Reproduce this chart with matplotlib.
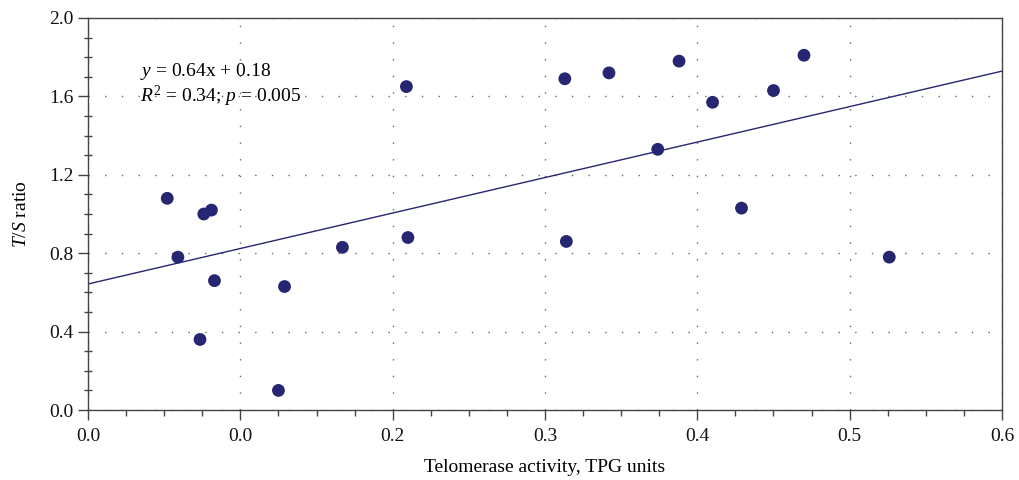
import numpy as np
import matplotlib
matplotlib.use("Agg")
import matplotlib.pyplot as plt
from matplotlib.ticker import MultipleLocator, FixedLocator, FixedFormatter

plt.rcParams['font.family'] = ['Liberation Serif', 'DejaVu Serif']
plt.rcParams['mathtext.fontset'] = 'custom'
plt.rcParams['mathtext.rm'] = 'Liberation Serif'
plt.rcParams['mathtext.it'] = 'Liberation Serif:italic'

# telomerase activity (TPG units) vs T/S ratio
tpg = [0.052, 0.059, 0.076, 0.081, 0.083, 0.0735, 0.125, 0.129, 0.167, 0.209,
       0.210, 0.313, 0.314, 0.342, 0.374, 0.388, 0.410, 0.429, 0.450, 0.470, 0.526]
ts_ratio = [1.08, 0.78, 1.00, 1.02, 0.66, 0.36, 0.10, 0.63, 0.83, 1.65,
            0.88, 1.69, 0.86, 1.72, 1.33, 1.78, 1.57, 1.03, 1.63, 1.81, 0.78]
# drawn regression line (intercept, slope) as seen in the figure
fit_intercept = 0.643
fit_slope = 1.81
xtick_vals = [0.0, 0.1, 0.2, 0.3, 0.4, 0.5, 0.6]
xtick_labels = ['0.0', '0.0', '0.2', '0.3', '0.4', '0.5', '0.6']
ytick_vals = [0.0, 0.4, 0.8, 1.2, 1.6, 2.0]

navy = '#262673'

fig = plt.figure(figsize=(10.19, 4.8), dpi=100)
ax = fig.add_axes([0.0864, 0.1458, 0.8969, 0.8167])

xs = np.array([0.0, 0.6])
ax.plot(xs, fit_intercept + fit_slope * xs, color=navy, lw=1.0, zorder=2)
ax.scatter(tpg, ts_ratio, s=85, color=navy, edgecolors='none', zorder=3)

ax.set_xlim(0, 0.6)
ax.set_ylim(0, 2.0)
ax.xaxis.set_major_locator(FixedLocator(xtick_vals))
ax.xaxis.set_major_formatter(FixedFormatter(xtick_labels))
ax.xaxis.set_minor_locator(MultipleLocator(0.025))
ax.yaxis.set_major_locator(FixedLocator(ytick_vals))
ax.yaxis.set_minor_locator(MultipleLocator(0.1))

ax.grid(True, which='major', color='#666666', linestyle=(0, (1, 11)), linewidth=1.0)
ax.set_axisbelow(True)

for sp in ax.spines.values():
    sp.set_color('#444444')
    sp.set_linewidth(1.0)

ax.tick_params(axis='both', which='major', direction='out', length=7, width=1,
               color='#444444', labelsize=14, labelcolor='#111111')
ax.tick_params(axis='x', which='minor', direction='out', length=4, width=1, color='#444444')
ax.tick_params(axis='y', which='minor', direction='inout', length=6, width=1, color='#444444')
ax.tick_params(axis='x', which='major', pad=6)

ax.set_xlabel('Telomerase activity, TPG units', fontsize=14, labelpad=10)
ax.set_ylabel('$T$/$S$ ratio', fontsize=14)
ax.yaxis.set_label_coords(-0.063, 0.5)

ax.text(0.057, 0.853, '$y$ = 0.64x + 0.18', transform=ax.transAxes, fontsize=14)
ax.text(0.057, 0.785, '$R^2$ = 0.34; $p$ = 0.005', transform=ax.transAxes, fontsize=14)

fig.savefig('out.png', dpi=100)
